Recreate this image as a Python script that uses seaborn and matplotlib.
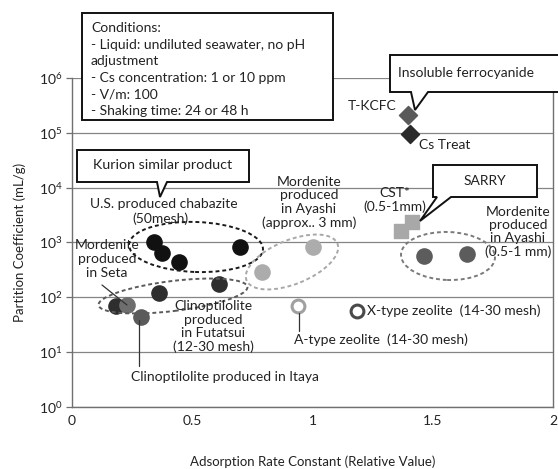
import numpy as np
import pandas as pd
import matplotlib
matplotlib.use("Agg")
import matplotlib.pyplot as plt
import seaborn as sns
from matplotlib.patches import Ellipse, Polygon, Rectangle
from matplotlib.lines import Line2D
from matplotlib.transforms import IdentityTransform
from matplotlib.ticker import NullLocator

# ---------------- data ----------------
chabazite_x = [0.34, 0.375, 0.445, 0.70]
chabazite_y = [1040, 640, 450, 820]
futatsui_x = [0.185, 0.36, 0.61]
futatsui_y = [70, 122, 178]
seta_x = [0.227]
seta_y = [72]
itaya_x = [0.287]
itaya_y = [44]
ayashi3_x = [0.79, 1.00]
ayashi3_y = [290, 820]
ayashi05_x = [1.465, 1.644]
ayashi05_y = [577, 611]
cst_x = [1.366, 1.412]
cst_y = [1650, 2400]
tkcfc_x = [1.396]
tkcfc_y = [214000]
cstreat_x = [1.405]
cstreat_y = [94700]
atype_x = [0.941]
atype_y = [70]
xtype_x = [1.186]
xtype_y = [56.5]

y_ticks = [1, 10, 100, 1000, 10000, 100000, 1000000]
x_ticks = [0, 0.5, 1, 1.5, 2]
x_tick_labels = ["0", "0.5", "1", "1.5", "2"]

sns.set_theme(style="white")
plt.rcParams["font.family"] = ["Lato", "DejaVu Sans"]

W, H = 558, 469
fig = plt.figure(figsize=(W / 100, H / 100), dpi=100)
ax = fig.add_axes([72 / W, 62 / H, 481 / W, 329 / H])

groups = [
    ("chabazite", chabazite_x, chabazite_y, "o", "#111111", "#111111", 120, 1),
    ("futatsui", futatsui_x, futatsui_y, "o", "#2e2e2e", "#2e2e2e", 120, 1),
    ("seta", seta_x, seta_y, "o", "#6e6e6e", "#6e6e6e", 120, 1),
    ("itaya", itaya_x, itaya_y, "o", "#5a5a5a", "#5a5a5a", 120, 1),
    ("ayashi3", ayashi3_x, ayashi3_y, "o", "#acacac", "#acacac", 120, 1),
    ("ayashi05", ayashi05_x, ayashi05_y, "o", "#5c5c5c", "#5c5c5c", 120, 1),
    ("cst", cst_x, cst_y, "s", "#a8a8a8", "#a8a8a8", 110, 1),
    ("tkcfc", tkcfc_x, tkcfc_y, "D", "#5a5a5a", "#5a5a5a", 85, 1),
    ("cstreat", cstreat_x, cstreat_y, "D", "#2a2a2a", "#2a2a2a", 85, 1),
    ("atype", atype_x, atype_y, "o", "white", "#a0a0a0", 85, 2.2),
    ("xtype", xtype_x, xtype_y, "o", "white", "#4a4a4a", 85, 2.2),
]
frames = []
for name, xs, ys, *_ in groups:
    frames.append(pd.DataFrame({"x": xs, "y": ys, "group": name}))
df = pd.concat(frames, ignore_index=True)

for name, xs, ys, mk, fc, ec, s, lw in groups:
    sub = df[df["group"] == name]
    sns.scatterplot(data=sub, x="x", y="y", marker=mk, color=fc, edgecolor=ec,
                    linewidth=lw, s=s, ax=ax, legend=False, zorder=5)

ax.set_yscale("log")
ax.set_xlim(0, 2)
ax.set_ylim(1, 1e6)
ax.set_yticks(y_ticks)
ax.yaxis.set_minor_locator(NullLocator())
ax.set_xticks(x_ticks)
ax.set_xticklabels(x_tick_labels)
ax.yaxis.grid(True, color="#858585", lw=0.9)
ax.xaxis.grid(False)
for side in ["left", "bottom", "right"]:
    ax.spines[side].set_color("#707070")
    ax.spines[side].set_linewidth(1.0)
ax.spines["top"].set_visible(False)
ax.tick_params(axis="y", left=True, length=4, width=0.9, color="#707070",
               labelsize=10, pad=3, labelcolor="#222222")
ax.tick_params(axis="x", bottom=False, length=0, labelsize=10, pad=6,
               labelcolor="#222222")
ax.set_xlabel("Adsorption Rate Constant (Relative Value)", fontsize=9.5,
              labelpad=20, color="#222222")
ax.set_ylabel("Partition Coefficient (mL/g)", fontsize=9.5, labelpad=9,
              color="#222222")

FS = 10


# ---------------- annotations (pixel positions of the layout) ----------------
def fp(px, py):
    return (px / W, 1 - py / H)


def txt(px, py, s, ha="center", va="center", size=FS):
    fig.text(px / W, 1 - py / H, s, ha=ha, va=va, fontsize=size,
             color="#222222", zorder=7)


def line(pts, color="#333333", lw=0.9):
    xs = [p[0] / W for p in pts]
    ys = [1 - p[1] / H for p in pts]
    fig.add_artist(Line2D(xs, ys, color=color, lw=lw,
                          transform=fig.transFigure, zorder=6))


def callout(x0, y0, x1, y1, b0, b1, tip):
    verts = [(x0, y0), (x1, y0), (x1, y1), (b1, y1), tip, (b0, y1), (x0, y1)]
    poly = Polygon([fp(*v) for v in verts], closed=True, facecolor="white",
                   edgecolor="#111111", lw=1.4, transform=fig.transFigure,
                   zorder=5)
    fig.add_artist(poly)


def ellipse(cx, cy, w, h, ang, color):
    e = Ellipse((cx, H - cy), w, h, angle=ang, fill=False, edgecolor=color,
                lw=1.4, ls=(0, (2, 1.5)), transform=IdentityTransform(),
                zorder=4)
    fig.add_artist(e)


# Conditions box
fig.add_artist(Rectangle(fp(82, 120), (333 - 82) / W, (120 - 13) / H,
                         facecolor="white", edgecolor="#111111", lw=1.4,
                         transform=fig.transFigure, zorder=5))
cond_lines = ["Conditions:", "- Liquid: undiluted seawater, no pH", "adjustment",
              "- Cs concentration: 1 or 10 ppm", "- V/m: 100",
              "- Shaking time: 24 or 48 h"]
for i, s in enumerate(cond_lines):
    txt(91, 28 + i * 16.6, s, ha="left")

# callouts
callout(390, 55, 640, 92, 411, 428, (415, 110))
txt(466, 73, "Insoluble ferrocyanide")
callout(77, 150, 249, 182, 157, 167, (160, 197))
txt(163, 165, "Kurion similar product", size=10.3)
callout(433, 165, 537, 197, 437, 451, (420, 221))
txt(485, 181, "SARRY")

# ellipses
ellipse(196, 247, 134, 50, -2, "#1a1a1a")
ellipse(292, 262, 98, 44, 22, "#a8a8a8")
ellipse(173, 296, 150, 30, 7, "#5a5a5a")
ellipse(448, 256, 94, 48, -2, "#7a7a7a")

# labels
txt(397, 106, "T-KCFC", ha="right")
txt(419, 145, "Cs Treat", ha="left")
txt(164, 204, "U.S. produced chabazite")
txt(160, 219, "(50mesh)")
for i, s in enumerate(["Mordenite", "produced", "in Ayashi", "(approx.. 3 mm)"]):
    txt(309, 181.5 + i * 13.8, s)
txt(395, 193, "CST*")
txt(395, 207, "(0.5-1mm)")
for i, s in enumerate(["Mordenite", "produced", "in Ayashi", "(0.5-1 mm)"]):
    txt(518, 211.5 + i * 13.4, s)
for i, s in enumerate(["Mordenite", "produced", "in Seta"]):
    txt(107, 245 + i * 14.2, s)
line([(102, 285), (127, 305)])
for i, s in enumerate(["Clinoptilolite", "produced", "in Futatsui", "(12-30 mesh)"]):
    txt(213, 306 + i * 13.6, s)
line([(139, 320), (139, 366)])
txt(131, 377, "Clinoptilolite produced in Itaya", ha="left")
line([(299, 313), (299, 331)])
txt(294, 340, "A-type zeolite  (14-30 mesh)", ha="left")
txt(367, 311, "X-type zeolite  (14-30 mesh)", ha="left")

fig.savefig("out.png", dpi=100)
